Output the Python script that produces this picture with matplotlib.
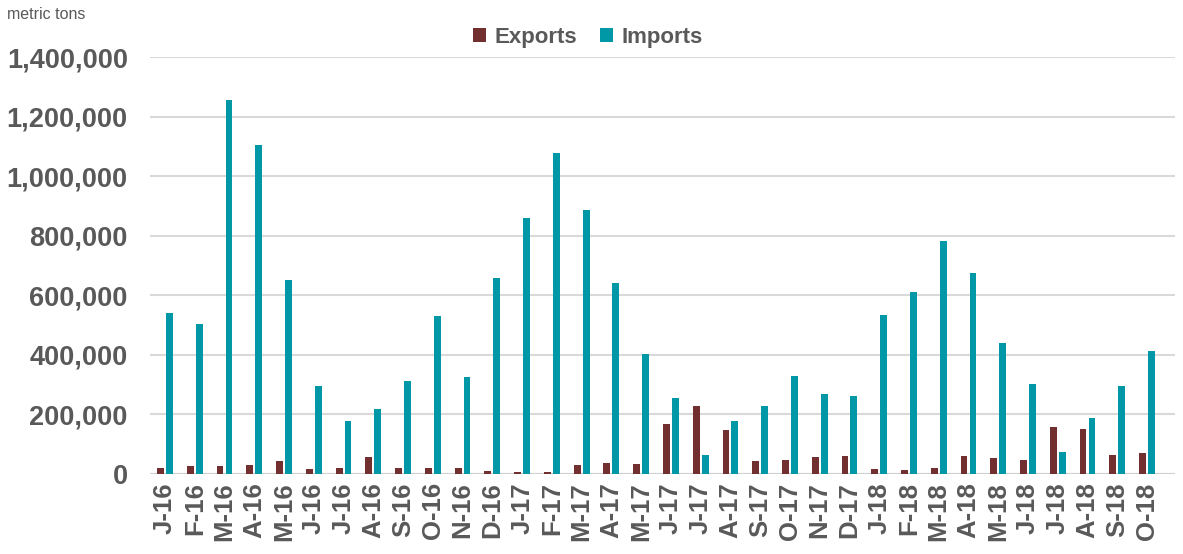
import matplotlib.pyplot as plt
import numpy as np
from matplotlib.ticker import FuncFormatter

plt.rcParams['font.family'] = ['Liberation Sans', 'DejaVu Sans']

months = ["J-16", "F-16", "M-16", "A-16", "M-16", "J-16", "J-16", "A-16", "S-16", "O-16", "N-16", "D-16",
          "J-17", "F-17", "M-17", "A-17", "M-17", "J-17", "J-17", "A-17", "S-17", "O-17", "N-17", "D-17",
          "J-18", "F-18", "M-18", "A-18", "M-18", "J-18", "J-18", "A-18", "S-18", "O-18"]

exports = [20000, 27000, 27000, 31000, 43000, 17000, 20000, 57000, 20000, 20000, 20000, 9000,
           6000, 6000, 31000, 37000, 34000, 167000, 230000, 148000, 43000, 48000, 57000, 59000,
           18000, 12000, 20000, 59000, 54000, 48000, 157000, 151000, 63000, 70000]

imports = [540000, 505000, 1255000, 1105000, 650000, 296000, 178000, 217000, 313000, 530000, 327000, 657000,
           860000, 1077000, 885000, 643000, 402000, 255000, 64000, 178000, 227000, 330000, 268000, 263000,
           535000, 612000, 783000, 675000, 440000, 302000, 75000, 188000, 294000, 413000]

export_color = "#722F2F"
import_color = "#0097A7"
text_color = "#595959"

fig = plt.figure(figsize=(11.83, 5.54), dpi=100)
ax = fig.add_axes([150 / 1183, 0.1444, 1025 / 1183, 0.7526])

x = np.arange(len(months))
w = 0.23
ax.bar(x - 0.15, exports, width=w, color=export_color, label="Exports", zorder=3)
ax.bar(x + 0.15, imports, width=w, color=import_color, label="Imports", zorder=3)

ax.set_ylim(0, 1400000)
ax.set_yticks(range(0, 1400001, 200000))
ax.yaxis.set_major_formatter(FuncFormatter(lambda v, p: f"{int(v):,}"))
ax.set_xlim(-0.504, 33.94)
ax.set_xticks(x)
ax.set_xticklabels(months, rotation=90)

for s in ax.spines.values():
    s.set_visible(False)
ax.grid(axis="y", color="#D9D9D9", linewidth=1.5, zorder=0)
ax.axhline(0, color="#D0D0D0", linewidth=1.5, zorder=2)
ax.tick_params(axis="both", length=0, colors=text_color)
for lbl in ax.get_yticklabels():
    lbl.set_fontsize(19.5)
    lbl.set_fontweight("bold")
for lbl in ax.get_xticklabels():
    lbl.set_fontsize(18.5)
    lbl.set_fontweight("bold")
ax.tick_params(axis="y", pad=16)
ax.tick_params(axis="x", pad=6)

leg = fig.legend(loc="center", bbox_to_anchor=(0.497, 0.933), ncol=2, frameon=False,
                 prop={"size": 16, "weight": "bold"}, handlelength=0.6, handleheight=0.6,
                 columnspacing=1.0, handletextpad=0.4)
for t in leg.get_texts():
    t.set_color(text_color)

fig.text(0.006, 0.973, "metric tons", fontsize=11.5, color=text_color, va="center")

fig.savefig("out.png", dpi=100)
